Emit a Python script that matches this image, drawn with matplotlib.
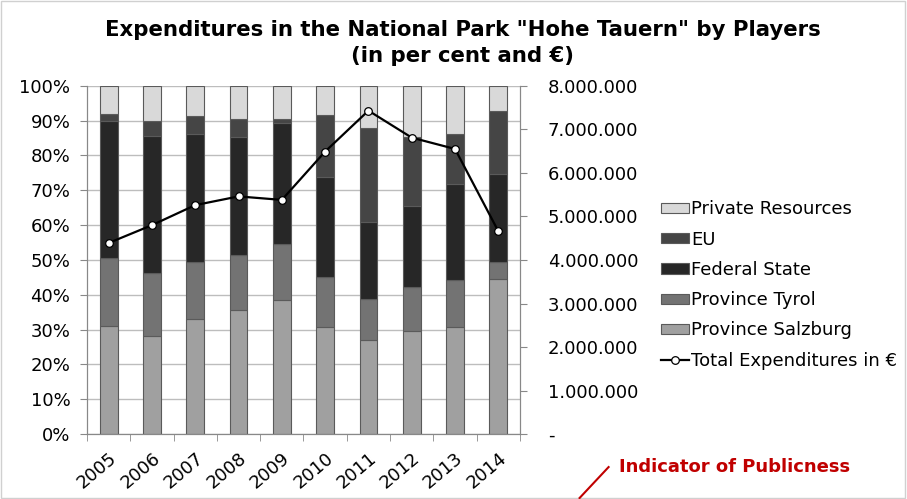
import numpy as np
import matplotlib
matplotlib.use("Agg")
import matplotlib.pyplot as plt
from matplotlib.ticker import FuncFormatter, MultipleLocator

years = ['2005', '2006', '2007', '2008', '2009', '2010', '2011', '2012', '2013', '2014']
# shares in per cent
salzburg = [31.1, 28.2, 33.0, 35.7, 38.4, 30.8, 27.0, 29.5, 30.8, 44.5]
tyrol = [19.6, 18.1, 16.3, 15.7, 16.2, 14.3, 11.7, 12.7, 13.4, 4.8]
federal = [39.3, 39.4, 36.8, 34.0, 34.6, 28.8, 22.3, 23.2, 27.7, 25.4]
eu = [1.9, 4.2, 5.1, 5.1, 1.2, 17.6, 27.0, 20.0, 14.2, 18.2]
private = [8.1, 10.1, 8.8, 9.5, 9.6, 8.5, 12.0, 14.6, 13.9, 7.1]
total = [4.39e6, 4.80e6, 5.26e6, 5.46e6, 5.38e6, 6.49e6, 7.43e6, 6.81e6, 6.55e6, 4.66e6]

series = [('Province Salzburg', salzburg, '#a0a0a0'),
          ('Province Tyrol', tyrol, '#737373'),
          ('Federal State', federal, '#272727'),
          ('EU', eu, '#454545'),
          ('Private Resources', private, '#d9d9d9')]

FS = 13

fig = plt.figure(figsize=(9.07, 4.99), dpi=100)
ax = fig.add_axes([0.0959, 0.130, 0.4774, 0.698])
ax2 = ax.twinx()

x = np.arange(len(years))
bottom = np.zeros(len(years))
handles = {}
for name, vals, col in series:
    vals = np.array(vals)
    b = ax.bar(x, vals, 0.41, bottom=bottom, color=col, edgecolor='#5a5a5a',
               linewidth=0.8, label=name, zorder=2)
    handles[name] = b
    bottom += vals

ln, = ax2.plot(x, total, color='black', lw=1.6, marker='o', ms=5.5,
               mfc='white', mec='black', mew=0.9, label='Total Expenditures in \u20ac', zorder=5)

ax.set_xlim(-0.5, len(years) - 0.5)
ax.set_ylim(0, 100)
ax.yaxis.set_major_locator(MultipleLocator(10))
ax.yaxis.set_major_formatter(FuncFormatter(lambda v, p: '%d%%' % v))
ax.grid(axis='y', color='#bdbdbd', lw=1.0, zorder=0)
ax.set_axisbelow(True)
ax.set_xticks(x)
ax.set_xticklabels(years, rotation=40, ha='right', rotation_mode='anchor', fontsize=FS)
ax.set_xticks(np.arange(-0.5, len(years)), minor=True)
ax.tick_params(axis='x', which='major', length=0, pad=11)
ax.tick_params(axis='x', which='minor', length=5, color='#888888')
ax.tick_params(axis='y', length=5, color='#888888', labelsize=FS, pad=7)

ax2.set_ylim(0, 8e6)
ax2.yaxis.set_major_locator(MultipleLocator(1e6))
ax2.yaxis.set_major_formatter(FuncFormatter(
    lambda v, p: '-' if v == 0 else '{:,.0f}'.format(v).replace(',', '.')))
ax2.tick_params(axis='y', length=5, color='#888888', labelsize=FS, pad=15)

for a in (ax, ax2):
    for s in a.spines.values():
        s.set_color('#888888')
    a.spines['top'].set_visible(False)

fig.text(0.51, 0.94, 'Expenditures in the National Park "Hohe Tauern" by Players',
         ha='center', va='center', fontsize=15.3, fontweight='bold')
fig.text(0.51, 0.888, '(in per cent and \u20ac)', ha='center', va='center',
         fontsize=15.3, fontweight='bold')

order = ['Private Resources', 'EU', 'Federal State', 'Province Tyrol', 'Province Salzburg']
fig.legend([handles[n] for n in order] + [ln], order + [ln.get_label()],
           loc='center left', bbox_to_anchor=(0.729, 0.429), frameon=False,
           fontsize=FS, handlelength=1.55, handleheight=0.5, labelspacing=0.68,
           handletextpad=0.1, borderaxespad=0, borderpad=0)

fig.text(0.683, 0.064, 'Indicator of Publicness', color='#c00000',
         fontsize=13, fontweight='bold', ha='left', va='center')
fig.add_artist(plt.Line2D([0.639, 0.671], [0.002, 0.064], color='#c00000', lw=1.5))

fig.add_artist(plt.Rectangle((0.001, 0.002), 0.997, 0.996, fill=False,
                             edgecolor='#d0d0d0', lw=1.0))

fig.savefig('out.png', dpi=100)
